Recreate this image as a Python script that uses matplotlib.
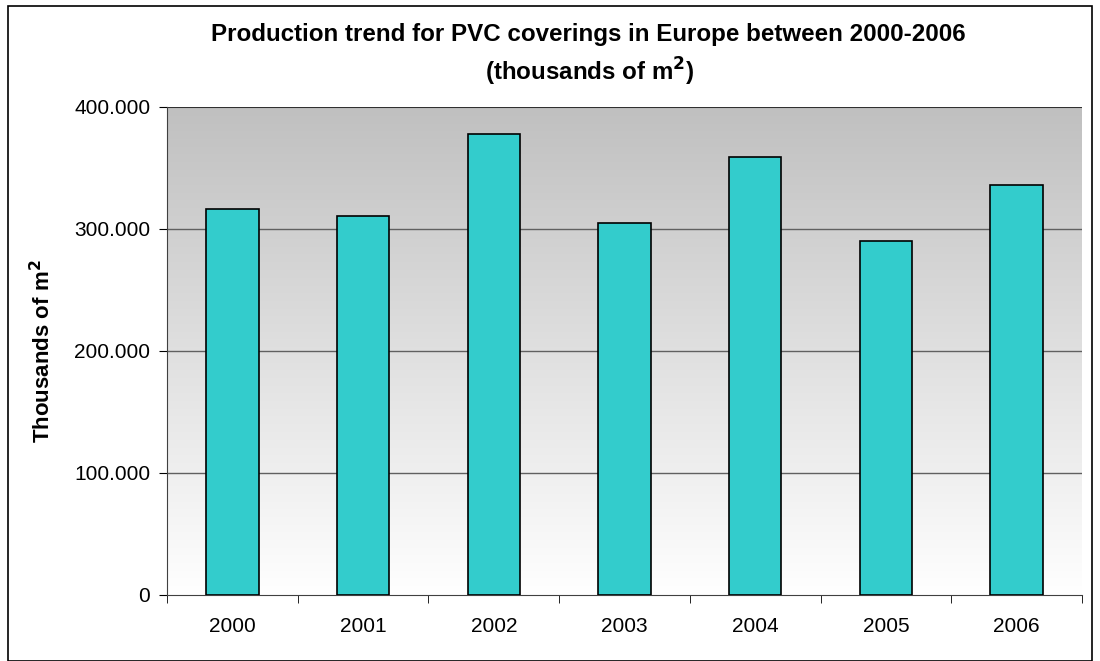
import matplotlib
matplotlib.use("Agg")
import matplotlib.pyplot as plt
import numpy as np
from matplotlib.patches import Rectangle

years = ["2000", "2001", "2002", "2003", "2004", "2005", "2006"]
production = [316, 311, 378, 305, 359, 290, 336]
yticks = [0, 100, 200, 300, 400]
ytick_labels = ["0", "100.000", "200.000", "300.000", "400.000"]

plt.rcParams['font.family'] = ['Liberation Sans', 'DejaVu Sans']

fig = plt.figure(figsize=(11, 6.61), dpi=100)
ax = fig.add_axes([167/1100, 1 - 595/661, (1082-167)/1100, (595-107)/661])

# Fondo degradado gris -> blanco
grad = np.linspace(0, 1, 256).reshape(-1, 1)
cmap = matplotlib.colors.LinearSegmentedColormap.from_list("g", ["#ffffff", "#c0c0c0"])
ax.imshow(grad, aspect='auto', cmap=cmap, origin='lower',
          extent=[-0.5, len(years) - 0.5, 0, 400], zorder=0)

x = np.arange(len(years))
ax.bar(x, production, width=0.40, color="#33cccc", edgecolor="black", linewidth=1.2, zorder=3)

ax.set_xlim(-0.5, len(years) - 0.5)
ax.set_ylim(0, 400)
ax.set_yticks(yticks)
ax.set_yticklabels(ytick_labels, fontsize=15)
ax.set_xticks(x)
ax.set_xticklabels(years, fontsize=15)
ax.tick_params(axis='x', length=0, pad=16)
ax.set_xticks(np.arange(-0.5, len(years)), minor=True)
ax.tick_params(axis='x', which='minor', length=6, direction='out')
ax.tick_params(axis='y', length=6, direction='out', pad=6)

for v in yticks[1:4]:
    ax.axhline(v, color="#606060", linewidth=1, zorder=1)

for s in ['top', 'right']:
    ax.spines[s].set_visible(False)
ax.spines['left'].set_color('#404040')
ax.spines['bottom'].set_color('#404040')
ax.axhline(400, color="#303030", linewidth=1.5, zorder=2)

ax.set_ylabel("Thousands of m$^\\mathbf{2}$", fontsize=16, fontweight='bold', labelpad=14)

fig.text(588/1100, 1 - 34/661, "Production trend for PVC coverings in Europe between 2000-2006",
         ha='center', va='center', fontsize=17.4, fontweight='bold')
fig.text(590/1100, 1 - 72/661, "(thousands of m$^\\mathbf{2}$)",
         ha='center', va='center', fontsize=17.4, fontweight='bold')

# Borde del grafico
fig.patches.append(Rectangle((8/1100, 0), 1 - 16/1100, 1 - 6/661, transform=fig.transFigure,
                             fill=False, edgecolor='black', linewidth=1.2))

fig.savefig("out.png", dpi=100)
